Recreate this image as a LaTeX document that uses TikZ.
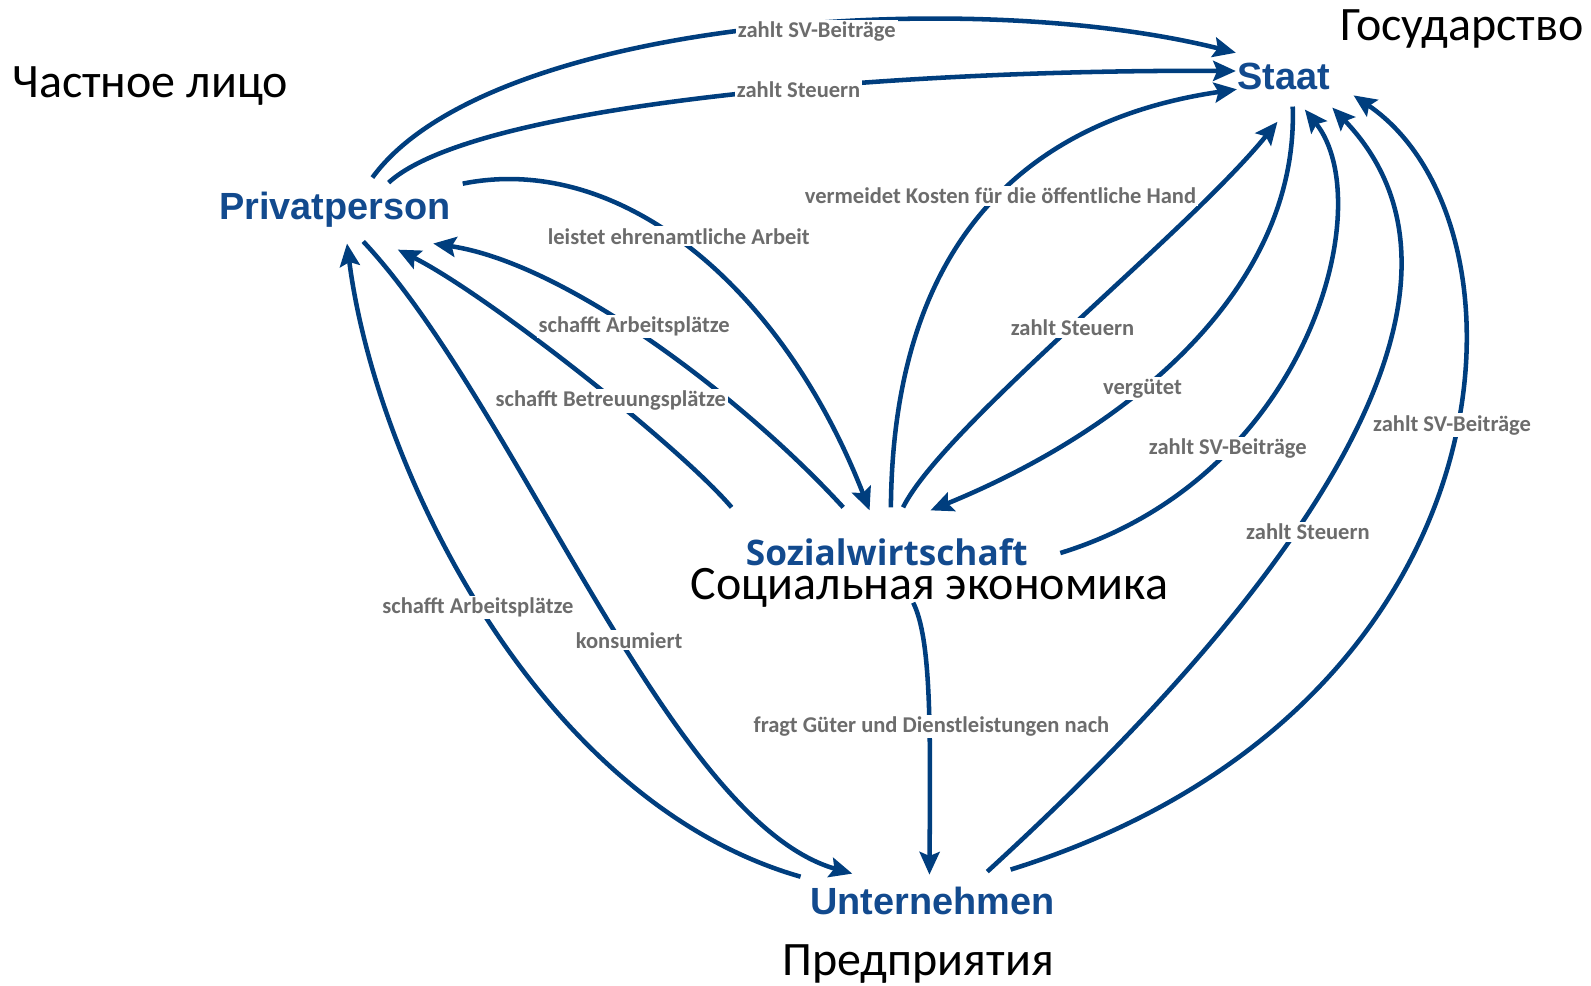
\documentclass[tikz,border=0pt]{standalone}
\usepackage{fontspec}
\setmainfont{Carlito}
\newfontfamily\arialfont{Liberation Sans}
\newfontfamily\segoefont{Open Sans}
\usepackage{tikz}
\usetikzlibrary{arrows.meta,calc}
\definecolor{flowblue}{RGB}{0,62,126}
\definecolor{nodeblue}{RGB}{18,74,142}
\definecolor{lblgray}{RGB}{108,108,108}

\tikzset{
  flow/.style={draw=flowblue, line width=3.4pt, -{Stealth[length=17pt,width=15pt,inset=3pt]}},
  actor/.style={text=nodeblue, font=\arialfont\bfseries\fontsize{28.4}{31}\selectfont, inner sep=0.75pt},
  ru/.style={text=black, font=\fontsize{36}{40}\selectfont, inner sep=0.75pt},
  lbl/.style={text=lblgray, fill=white, font=\bfseries\fontsize{16.9}{19}\selectfont, inner sep=1.5pt},
}

\begin{document}
\begin{tikzpicture}[x=0.761pt,y=0.761pt,yscale=-1,xscale=1]
\useasboundingbox (0,0) rectangle (1568,971);

% Text Node
\node [actor] (staat) at (1265,75) {Staat};
% Text Node
\node [actor] (pp) at (330,207) {Privatperson};
% Text Node
\node [actor, font=\segoefont\bfseries\fontsize{26.4}{29}\selectfont] (sozial) at (874,544) {Sozialwirtschaft};
% Text Node
\node [actor] (unt) at (919,888) {Unternehmen};

%Curve Lines: Privatperson
\draw [flow] ($(pp)+(37,-32)$) .. controls (480,20) and (950,-15) .. ($(staat)+(-47,-23)$);
\draw [flow] ($(pp)+(53,-27)$) .. controls (470,100) and (900,68) .. ($(staat)+(-47,-5)$);
\draw [flow] ($(pp)+(126,-26)$) .. controls (610,150) and (770,280) .. ($(sozial)+(-17,-41)$);
\draw [flow] ($(pp)+(28,31)$) .. controls (510,400) and (660,810) .. ($(unt)+(-79,-27)$);
%Curve Lines: Sozialwirtschaft
\draw [flow] ($(sozial)+(-43,-44)$) .. controls (735,395) and (560,260) .. ($(pp)+(97,33)$);
\draw [flow] ($(sozial)+(-153,-44)$) .. controls (670,440) and (480,290) .. ($(pp)+(62,39)$);
\draw [flow] ($(sozial)+(4,-44)$) .. controls (880,250) and (1000,120) .. ($(staat)+(-46,13)$);
\draw [flow] ($(sozial)+(16,-44)$) .. controls (930,420) and (1170,230) .. ($(staat)+(-6,45)$);
\draw [flow] ($(sozial)+(171,1)$) .. controls (1290,470) and (1360,200) .. ($(staat)+(21,33)$);
\draw [flow] ($(sozial)+(26,50)$) .. controls (918,630) and (917,720) .. ($(unt)+(-3,-26)$);
%Curve Lines: Staat
\draw [flow] ($(staat)+(9,30)$) .. controls (1280,280) and (1120,420) .. ($(sozial)+(43,-41)$);
%Curve Lines: Unternehmen
\draw [flow] ($(unt)+(-130,-24)$) .. controls (530,790) and (370,460) .. ($(pp)+(12,33)$);
\draw [flow] ($(unt)+(54,-29)$) .. controls (1300,560) and (1480,280) .. ($(staat)+(48,31)$);
\draw [flow] ($(unt)+(77,-31)$) .. controls (1500,700) and (1520,220) .. ($(staat)+(69,19)$);

% Text Node
\node [lbl] (lSVa) at (805,31) {zahlt SV-Beiträge};
\node [lbl] (lSta) at (787,88) {zahlt Steuern};
\node [lbl] (lKosten) at (986,193) {vermeidet Kosten für die öffentliche Hand};
\node [lbl] (lEhren) at (669,233) {leistet ehrenamtliche Arbeit};
\node [lbl] (lAPa) at (625,322) {schafft Arbeitsplätze};
\node [lbl] (lBetr) at (602,395) {schafft Betreuungsplätze};
\node [lbl] (lStb) at (1057,323) {zahlt Steuern};
\node [lbl] (lVerg) at (1126,383) {vergütet};
\node [lbl] (lSVb) at (1210,442) {zahlt SV-Beiträge};
\node [lbl] (lSVc) at (1431,419) {zahlt SV-Beiträge};
\node [lbl] (lStc) at (1289,524) {zahlt Steuern};
\node [lbl] (lAPb) at (471,599) {schafft Arbeitsplätze};
\node [lbl] (lKons) at (620,631) {konsumiert};
\node [lbl] (lFragt) at (918,716) {fragt Güter und Dienstleistungen nach};

% Text Node
\node [ru] (ruPP) at (148,85) {Частное лицо};
\node [ru] (ruStaat) at (1441,29) {Государство};
\node [ru] (ruSozial) at (916,579) {Социальная экономика};
\node [ru] (ruUnt) at (905,950) {Предприятия};

\end{tikzpicture}
\end{document}
